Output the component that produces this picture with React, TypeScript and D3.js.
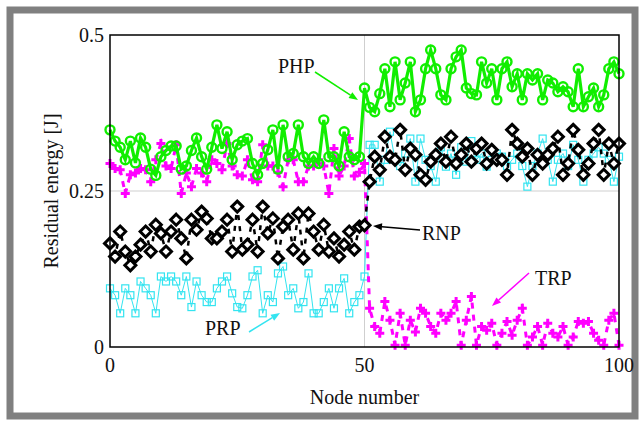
import React, { Component } from 'react'
import { scaleLinear, line } from 'd3'

const nodes = Array.from({ length: 101 }, (_, i) => i)

const xTicks = [0, 50, 100]
const yTicks = [0, 0.25, 0.5]
const yTickLabels = ['0', '0.25', '0.5']

// PHP (green, circles)
const php = [
  0.348, 0.33, 0.32, 0.3, 0.33, 0.295, 0.335, 0.32, 0.285, 0.275,
  0.305, 0.315, 0.322, 0.322, 0.285, 0.29, 0.315, 0.335, 0.305, 0.285,
  0.32, 0.356, 0.318, 0.345, 0.3, 0.324, 0.33, 0.334, 0.294, 0.276,
  0.294, 0.316, 0.348, 0.285, 0.356, 0.305, 0.31, 0.356, 0.305, 0.294,
  0.305, 0.294, 0.364, 0.305, 0.305, 0.29, 0.345, 0.305, 0.3, 0.305,
  0.415, 0.384, 0.377, 0.406, 0.446, 0.385, 0.457, 0.396, 0.423, 0.457,
  0.377, 0.396, 0.446, 0.476, 0.446, 0.404, 0.396, 0.446, 0.465, 0.476,
  0.415, 0.406, 0.404, 0.457, 0.423, 0.446, 0.396, 0.446, 0.457, 0.417,
  0.438, 0.396, 0.438, 0.428, 0.438, 0.396, 0.428, 0.423, 0.409, 0.417,
  0.409, 0.385, 0.446, 0.385, 0.401, 0.415, 0.385, 0.404, 0.446, 0.457,
  0.438
]

// RNP (black, diamonds)
const rnp = [
  0.166, 0.145, 0.185, 0.153, 0.131, 0.145, 0.164, 0.185, 0.153, 0.196,
  0.182, 0.153, 0.185, 0.204, 0.174, 0.142, 0.204, 0.188, 0.217, 0.206,
  0.174, 0.174, 0.185, 0.204, 0.153, 0.225, 0.156, 0.164, 0.204, 0.153,
  0.225, 0.182, 0.206, 0.142, 0.193, 0.204, 0.156, 0.214, 0.142, 0.214,
  0.185, 0.156, 0.196, 0.153, 0.174, 0.145, 0.164, 0.185, 0.156, 0.193,
  0.195, 0.265, 0.305, 0.284, 0.337, 0.305, 0.3, 0.348, 0.284, 0.318,
  0.308, 0.276, 0.268, 0.297, 0.308, 0.326, 0.297, 0.337, 0.294, 0.308,
  0.326, 0.297, 0.318, 0.326, 0.294, 0.316, 0.3, 0.3, 0.276, 0.348,
  0.326, 0.305, 0.318, 0.276, 0.308, 0.294, 0.308, 0.318, 0.337, 0.276,
  0.294, 0.348, 0.316, 0.276, 0.294, 0.326, 0.348, 0.276, 0.326, 0.294,
  0.326
]

// PRP (cyan, squares)
const prp = [
  0.094, 0.083, 0.054, 0.094, 0.083, 0.054, 0.105, 0.094, 0.083, 0.054,
  0.113, 0.105, 0.113, 0.105, 0.083, 0.113, 0.064, 0.105, 0.083, 0.072,
  0.072, 0.094, 0.105, 0.113, 0.086, 0.064, 0.062, 0.083, 0.113, 0.123,
  0.054, 0.083, 0.072, 0.118, 0.129, 0.083, 0.094, 0.062, 0.072, 0.118,
  0.054, 0.054, 0.072, 0.094, 0.062, 0.094, 0.11, 0.054, 0.072, 0.083,
  0.113, 0.324, 0.324, 0.265, 0.3, 0.345, 0.3, 0.29, 0.31, 0.334,
  0.265, 0.334, 0.3, 0.29, 0.265, 0.32, 0.289, 0.31, 0.276, 0.32,
  0.297, 0.33, 0.3, 0.31, 0.289, 0.3, 0.31, 0.305, 0.29, 0.3,
  0.31, 0.29, 0.257, 0.29, 0.31, 0.334, 0.3, 0.265, 0.3, 0.31,
  0.29, 0.324, 0.3, 0.265, 0.3, 0.31, 0.32, 0.31, 0.3, 0.265,
  0.305
]

// TRP (magenta, plus)
const trp = [
  0.294, 0.286, 0.284, 0.246, 0.276, 0.279, 0.286, 0.284, 0.265, 0.3,
  0.326, 0.29, 0.286, 0.324, 0.246, 0.279, 0.257, 0.286, 0.279, 0.265,
  0.3, 0.294, 0.284, 0.326, 0.29, 0.276, 0.274, 0.3, 0.268, 0.265,
  0.324, 0.29, 0.29, 0.28, 0.257, 0.3, 0.3, 0.265, 0.265, 0.29,
  0.29, 0.3, 0.29, 0.246, 0.318, 0.274, 0.29, 0.334, 0.274, 0.28,
  0.294, 0.062, 0.033, 0.022, 0.073, 0.043, 0.003, 0.054, 0.003, 0.043,
  0.024, 0.062, 0.054, 0.033, 0.022, 0.054, 0.043, 0.054, 0.073, 0.003,
  0.043, 0.081, 0.003, 0.033, 0.027, 0.038, 0.003, 0.022, 0.041, 0.019,
  0.043, 0.062, 0.003, 0.016, 0.033, 0.003, 0.038, 0.022, 0.016, 0.033,
  0.003, 0.016, 0.041, 0.038, 0.041, 0.022, 0.011, 0.003, 0.043, 0.054,
  0.003
]

const GREEN = '#11ee00'
const CYAN = '#33e4f0'
const MAGENTA = '#ff00ff'
const FONT = '"Liberation Serif", "Times New Roman", serif'

class App extends Component {
  x = scaleLinear().domain([0, 100]).range([110, 619])
  y = scaleLinear().domain([0, 0.5]).range([347, 35])

  path = values => {
    let gen = line()
      .x((d, i) => this.x(nodes[i]))
      .y(d => this.y(d))
    return gen(values)
  }

  renderFrame = () => {
    return (
      <g>
        <rect x={0} y={0} width={644} height={426} fill="#fff" />
        <rect x={10} y={10} width={625} height={406} fill="none" stroke="#808080" strokeWidth={7} />
      </g>
    )
  }

  renderGrid = () => {
    let x = this.x
    let y = this.y
    return (
      <g stroke="#cfcfcf" strokeWidth={1}>
        <line x1={x(50)} x2={x(50)} y1={y(0)} y2={y(0.5)} />
        <line x1={x(0)} x2={x(100)} y1={y(0.25)} y2={y(0.25)} />
      </g>
    )
  }

  renderAxes = () => {
    let x = this.x
    let y = this.y
    return (
      <g fontFamily={FONT} fontSize={20} fill="#111">
        <rect
          x={x(0)}
          y={y(0.5)}
          width={x(100) - x(0)}
          height={y(0) - y(0.5)}
          fill="none"
          stroke="#000"
          strokeWidth={1.5}
        />
        {xTicks.map(t => (
          <text key={t} x={x(t)} y={y(0) + 25} textAnchor="middle">
            {t}
          </text>
        ))}
        {yTicks.map((t, i) => (
          <text key={t} x={x(0) - 6} y={y(t) + 7} textAnchor="end">
            {yTickLabels[i]}
          </text>
        ))}
        <text x={x(50)} y={404} textAnchor="middle">
          Node number
        </text>
        <text transform={`translate(58,${y(0.25)}) rotate(-90)`} textAnchor="middle">
          Residual energy [J]
        </text>
      </g>
    )
  }

  renderPRP = () => {
    let s = 3.5
    return (
      <g>
        <path d={this.path(prp)} fill="none" stroke={CYAN} strokeWidth={1} />
        {prp.map((v, i) => (
          <rect
            key={i}
            x={this.x(nodes[i]) - s}
            y={this.y(v) - s}
            width={s * 2}
            height={s * 2}
            fill="none"
            stroke={CYAN}
            strokeWidth={1.2}
          />
        ))}
      </g>
    )
  }

  renderTRP = () => {
    let s = 4.5
    return (
      <g>
        <path d={this.path(trp)} fill="none" stroke={MAGENTA} strokeWidth={3} strokeDasharray="6,6" />
        {trp.map((v, i) => {
          let cx = this.x(nodes[i])
          let cy = this.y(v)
          return (
            <path
              key={i}
              d={`M${cx - s},${cy}H${cx + s}M${cx},${cy - s}V${cy + s}`}
              stroke={MAGENTA}
              strokeWidth={3}
            />
          )
        })}
      </g>
    )
  }

  renderRNP = () => {
    let s = 5.5
    return (
      <g>
        <path d={this.path(rnp)} fill="none" stroke="#000" strokeWidth={2.5} strokeDasharray="5,6" />
        {rnp.map((v, i) => {
          let cx = this.x(nodes[i])
          let cy = this.y(v)
          return (
            <path
              key={i}
              d={`M${cx},${cy - s}L${cx + s},${cy}L${cx},${cy + s}L${cx - s},${cy}Z`}
              fill="#fff"
              stroke="#000"
              strokeWidth={3}
            />
          )
        })}
      </g>
    )
  }

  renderPHP = () => {
    return (
      <g>
        <path d={this.path(php)} fill="none" stroke={GREEN} strokeWidth={3.2} />
        {php.map((v, i) => (
          <circle
            key={i}
            cx={this.x(nodes[i])}
            cy={this.y(v)}
            r={4.5}
            fill="none"
            stroke={GREEN}
            strokeWidth={2.4}
          />
        ))}
      </g>
    )
  }

  renderNotes = () => {
    // label, text position, arrow from -> to
    let notes = [
      { label: 'PHP', color: GREEN, tx: 278, ty: 73, x1: 315, y1: 72, x2: 358, y2: 100 },
      { label: 'RNP', color: '#000', tx: 422, ty: 240, x1: 420, y1: 230, x2: 373, y2: 226 },
      { label: 'TRP', color: MAGENTA, tx: 535, ty: 285, x1: 529, y1: 273, x2: 492, y2: 306 },
      { label: 'PRP', color: CYAN, tx: 205, ty: 335, x1: 249, y1: 332, x2: 280, y2: 313 }
    ]
    return (
      <g fontFamily={FONT} fontSize={20} fill="#111">
        {notes.map(n => {
          let a = Math.atan2(n.y2 - n.y1, n.x2 - n.x1)
          let len = 9
          let w = 3.5
          let bx = n.x2 - len * Math.cos(a)
          let by = n.y2 - len * Math.sin(a)
          let head = `M${n.x2},${n.y2}L${bx - w * Math.sin(a)},${by + w * Math.cos(a)}L${bx + w * Math.sin(a)},${by - w * Math.cos(a)}Z`
          return (
            <g key={n.label}>
              <text x={n.tx} y={n.ty}>
                {n.label}
              </text>
              <line x1={n.x1} y1={n.y1} x2={bx} y2={by} stroke={n.color} strokeWidth={1.5} />
              <path d={head} fill={n.color} />
            </g>
          )
        })}
      </g>
    )
  }

  render() {
    return (
      <svg width={644} height={426} style={{ position: 'absolute', left: 0, top: 0 }}>
        {this.renderFrame()}
        {this.renderGrid()}
        {this.renderPRP()}
        {this.renderTRP()}
        {this.renderRNP()}
        {this.renderPHP()}
        {this.renderAxes()}
        {this.renderNotes()}
      </svg>
    )
  }
}

export default App
